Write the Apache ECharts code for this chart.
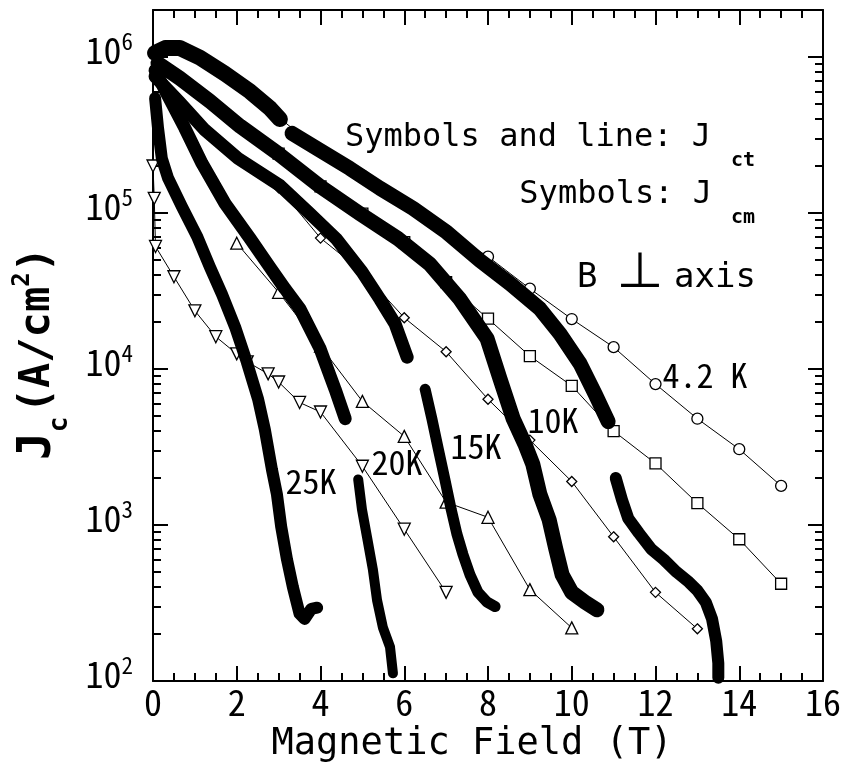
<!DOCTYPE html>
<html><head><meta charset="utf-8">
<script src="https://cdn.jsdelivr.net/npm/echarts@6/dist/echarts.min.js"></script>
<style>html,body{margin:0;padding:0;background:#fff}#c{width:846px;height:774px}</style>
</head><body><div id="c"></div>
<script>
// ---- Data (field in T, Jc in A/cm^2) ----
// Transport Jc (symbols and line)
const jct42 = [[3,4.1e5],[4,2.5e5],[5,1.74e5],[6,1.15e5],[7,7.7e4],[8,5.25e4],[9,3.27e4],[10,2.09e4],[11,1.38e4],[12,8.0e3],[13,4.8e3],[14,3.06e3],[15,1.78e3]];
const jct10 = [[3,2.4e5],[4,1.48e5],[5,9.9e4],[6,6.5e4],[7,3.6e4],[8,2.1e4],[9,1.21e4],[10,7.8e3],[11,4.0e3],[12,2.48e3],[13,1.38e3],[14,8.1e2],[15,4.2e2]];
const jct15 = [[3,1.45e5],[4,6.9e4],[5,4.2e4],[6,2.13e4],[7,1.29e4],[8,6.4e3],[9,3.5e3],[10,1.9e3],[11,8.4e2],[12,3.7e2],[13,2.16e2]];
const jct20 = [[2,6.4e4],[3,3.1e4],[4,1.4e4],[5,6.2e3],[6,3.7e3],[7,1.4e3],[8,1.12e3],[9,3.85e2],[10,2.19e2]];
const jct25 = [[0,2.0e5],[0.03,1.24e5],[0.06,6.1e4],[0.5,3.9e4],[1.0,2.36e4],[1.5,1.61e4],[2.0,1.25e4],[2.25,1.11e4],[2.75,9.3e3],[3.0,8.25e3],[3.5,6.1e3],[4.0,5.3e3],[5.0,2.38e3],[6.0,9.4e2],[7.0,3.7e2]];
// Magnetization Jc (dense symbols)
const jcm42a = [[0.05,1.06e6],[0.29,1.14e6],[0.64,1.14e6],[1.12,9.9e5],[1.72,7.8e5],[2.32,6.0e5],[2.79,4.7e5],[3.03,4.0e5]];
const jcm42b = [[3.32,3.24e5],[3.99,2.52e5],[4.70,1.93e5],[5.42,1.44e5],[6.21,1.07e5],[7.02,7.5e4],[7.81,4.95e4],[8.53,3.52e4],[9.24,2.43e4],[9.72,1.68e4],[10.2,1.08e4],[10.56,6.9e3],[10.87,4.6e3]];
const jcm42c = [[11.05,2.0e3],[11.2,1.45e3],[11.35,1.1e3],[11.6,8.9e2],[11.9,7.0e2],[12.2,6.0e2],[12.5,5.0e2],[12.8,4.3e2],[13.0,3.8e2],[13.2,3.2e2],[13.35,2.5e2],[13.45,1.8e2],[13.5,1.3e2],[13.5,1.05e2]];
const jcm10 = [[0.12,9.1e5],[0.64,7.3e5],[1.36,5.2e5],[2.08,3.6e5],[2.99,2.4e5],[3.99,1.48e5],[4.94,9.9e4],[5.85,6.85e4],[6.61,4.7e4],[7.33,2.8e4],[7.98,1.56e4],[8.29,8.6e3],[8.6,4.8e3],[8.88,3.3e3],[9.07,2.45e3],[9.24,1.57e3],[9.46,1.08e3],[9.62,7.0e2],[9.77,4.8e2],[10.0,3.7e2],[10.32,3.2e2],[10.6,2.86e2]];
const jcm15a = [[0.05,7.5e5],[0.64,5.1e5],[1.24,3.4e5],[2.03,2.24e5],[3.03,1.5e5],[3.75,9.9e4],[4.37,6.85e4],[4.99,4.2e4],[5.42,2.8e4],[5.78,1.95e4],[6.07,1.19e4]];
const jcm15b = [[6.5,7.4e3],[6.66,4.8e3],[6.81,3.1e3],[6.97,1.96e3],[7.12,1.26e3],[7.26,8.7e2],[7.4,6.5e2],[7.57,4.8e2],[7.76,3.7e2],[7.98,3.2e2],[8.17,3.0e2]];
const jcm20a = [[0.05,8.2e5],[0.29,6.1e5],[0.76,3.5e5],[1.17,2.08e5],[1.72,1.15e5],[2.32,6.85e4],[2.79,4.5e4],[3.15,3.27e4],[3.51,2.43e4],[3.99,1.35e4],[4.35,7.4e3],[4.59,4.8e3]];
const jcm20b = [[4.9,1.96e3],[4.99,1.26e3],[5.11,8.4e2],[5.25,5.2e2],[5.35,3.3e2],[5.49,2.2e2],[5.66,1.65e2],[5.73,1.12e2]];
const jcm25 = [[0.05,5.45e5],[0.12,3.5e5],[0.21,2.24e5],[0.36,1.67e5],[0.69,1.1e5],[1.05,7.1e4],[1.36,4.5e4],[1.65,3.0e4],[1.96,1.86e4],[2.24,1.11e4],[2.51,6.4e3],[2.67,4.1e3],[2.84,2.27e3],[2.96,1.57e3],[3.06,9.8e2],[3.2,6.0e2],[3.34,4.0e2],[3.5,2.7e2],[3.62,2.5e2],[3.78,2.9e2],[3.92,2.95e2]];
// Axis ticks and labels
const xMin = 0, xMax = 16, xStep = 2;
const yMin = 100, yMax = 2e6;
const yDecades = [2,3,4,5,6];
const tempLabels = [['4.2 K',705,375],['10K',553,420],['15K',476,446],['20K',397,462],['25K',311,481]];

// ---- Chart ----
const NUM = "'Noto Sans Mono CJK JP','Liberation Sans Narrow','DejaVu Sans Condensed',sans-serif";
const MONO = "'DejaVu Sans Mono','Liberation Mono',monospace";
const minorLog = [];
yDecades.forEach(n => { if (n < 6) for (let k = 2; k <= 9; k++) minorLog.push(Math.log10(k * Math.pow(10, n))); });
const lgMax = Math.log10(yMax), lgMin = Math.log10(yMin);

const tickStyle = {color:'#000', width:2};
const xBase = (pos, showLabel) => ({
  type:'value', min:xMin, max:xMax, interval:xStep, position:pos,
  axisLine:{show:true, onZero:false, lineStyle:tickStyle},
  axisTick:{show:true, inside:true, length:15, lineStyle:tickStyle},
  minorTick:{show:true, splitNumber:4, length:8, lineStyle:tickStyle},
  splitLine:{show:false}, minorSplitLine:{show:false},
  axisLabel:{show:showLabel, fontSize:36, fontFamily:NUM, color:'#000', margin:3}
});
const decoY = (pos, vals, len, line) => ({
  type:'value', min:lgMin, max:lgMax, position:pos,
  axisLine:{show:line, onZero:false, lineStyle:tickStyle},
  axisTick:{show:true, inside:true, length:len, customValues:vals, lineStyle:tickStyle},
  axisLabel:{show:false}, splitLine:{show:false}
});

const jctSeries = (data, symbol, size, rot) => ({
  type:'line', data, xAxisIndex:0, yAxisIndex:0, z:2,
  symbol, symbolSize:size, symbolRotate:rot||0, showAllSymbol:true,
  itemStyle:{color:'#fff', borderColor:'#000', borderWidth:1.3},
  lineStyle:{color:'#000', width:1}, animation:false, silent:true
});
const jcmSeries = (data, w) => ({
  type:'line', data, xAxisIndex:0, yAxisIndex:0, z:3, symbol:'none',
  lineStyle:{color:'#000', width:w, cap:'round', join:'round'}, animation:false, silent:true
});

const graphics = [
  {type:'text', x:345, y:138, style:{text:'Symbols and line: J', fontSize:32, fontFamily:MONO, fill:'#000', verticalAlign:'middle', textVerticalAlign:'middle'}},
  {type:'text', x:731, y:161, style:{text:'ct', fontSize:20, fontWeight:'bold', fontFamily:MONO, fill:'#000', verticalAlign:'middle', textVerticalAlign:'middle'}},
  {type:'text', x:712, y:195, style:{text:'Symbols: J', fontSize:32, fontFamily:MONO, fill:'#000', align:'right', textAlign:'right', verticalAlign:'middle', textVerticalAlign:'middle'}},
  {type:'text', x:731, y:218, style:{text:'cm', fontSize:20, fontWeight:'bold', fontFamily:MONO, fill:'#000', verticalAlign:'middle', textVerticalAlign:'middle'}},
  {type:'text', x:577, y:278, style:{text:'B', fontSize:34, fontFamily:MONO, fill:'#000', verticalAlign:'middle', textVerticalAlign:'middle'}},
  {type:'text', x:640, y:270, style:{text:'\u22A5', fontSize:48, fontFamily:"'Noto Sans CJK JP','DejaVu Sans',sans-serif", fill:'#000', align:'center', textAlign:'center', verticalAlign:'middle', textVerticalAlign:'middle'}},
  {type:'text', x:674, y:278, style:{text:'axis', fontSize:34, fontFamily:MONO, fill:'#000', verticalAlign:'middle', textVerticalAlign:'middle'}}
];
tempLabels.forEach(t => graphics.push({type:'text', x:t[1], y:t[2], style:{text:t[0], fontSize:34, fontFamily:NUM, fill:'#000', align:'center', textAlign:'center', verticalAlign:'middle', textVerticalAlign:'middle'}}));

const chart = echarts.init(document.getElementById('c'), null, {renderer:'canvas'});
chart.setOption({
  animation:false,
  backgroundColor:'#fff',
  grid:{left:153, right:23, top:10, bottom:93, containLabel:false, outerBoundsMode:'none'},
  xAxis:[
    Object.assign(xBase('bottom', true), {
      name:'Magnetic Field (T)', nameLocation:'middle', nameGap:45, nameMoveOverlap:false,
      nameTextStyle:{fontSize:37, fontFamily:MONO, color:'#000', padding:[0,32,0,0]}
    }),
    xBase('top', false)
  ],
  yAxis:[
    {
      type:'log', logBase:10, min:yMin, max:yMax, position:'left',
      axisLine:{show:true, onZero:false, lineStyle:tickStyle},
      axisTick:{show:false},
      splitLine:{show:false},
      axisLabel:{
        margin:20, color:'#000', padding:[0,0,14,0],
        formatter: v => { const l = Math.log10(v), n = Math.round(l); if (Math.abs(l-n) > 1e-6 || yDecades.indexOf(n) < 0) return ''; return '{b|10}{s|' + n + '}'; },
        rich:{ b:{fontSize:36, fontFamily:NUM, color:'#000', lineHeight:40}, s:{fontSize:23, fontFamily:NUM, color:'#000', lineHeight:22, verticalAlign:'top'} }
      },
      name:'{j|J}{c|c} {t|(A/cm}{s|2}{t|)}', nameLocation:'middle', nameRotate:90, nameGap:80, nameMoveOverlap:false,
      nameTextStyle:{ color:'#000', padding:[0,16,0,0], rich:{
        j:{fontSize:46, fontWeight:'bold', fontFamily:MONO, color:'#000', lineHeight:70},
        c:{fontSize:26, fontWeight:'bold', fontFamily:MONO, color:'#000', lineHeight:26, verticalAlign:'bottom'},
        t:{fontSize:42, fontWeight:'bold', fontFamily:MONO, color:'#000', lineHeight:46},
        s:{fontSize:24, fontWeight:'bold', fontFamily:MONO, color:'#000', lineHeight:24, verticalAlign:'top', padding:[8,0,0,0]}
      }}
    },
    decoY('left', yDecades, 15, false),
    decoY('left', minorLog, 8, false),
    decoY('right', yDecades, 15, true),
    decoY('right', minorLog, 8, false)
  ],
  graphic: graphics,
  series:[
    jctSeries(jct42, 'circle', 11),
    jctSeries(jct10, 'rect', 11),
    jctSeries(jct15, 'diamond', 10),
    jctSeries(jct20, 'triangle', 12),
    jctSeries(jct25, 'triangle', 12, 180),
    jcmSeries(jcm42a, 16), jcmSeries(jcm42b, 15), jcmSeries(jcm42c, 12),
    jcmSeries(jcm10, 15),
    jcmSeries(jcm15a, 13), jcmSeries(jcm15b, 11),
    jcmSeries(jcm20a, 13), jcmSeries(jcm20b, 10),
    jcmSeries(jcm25, 12)
  ]
});
</script></body></html>
